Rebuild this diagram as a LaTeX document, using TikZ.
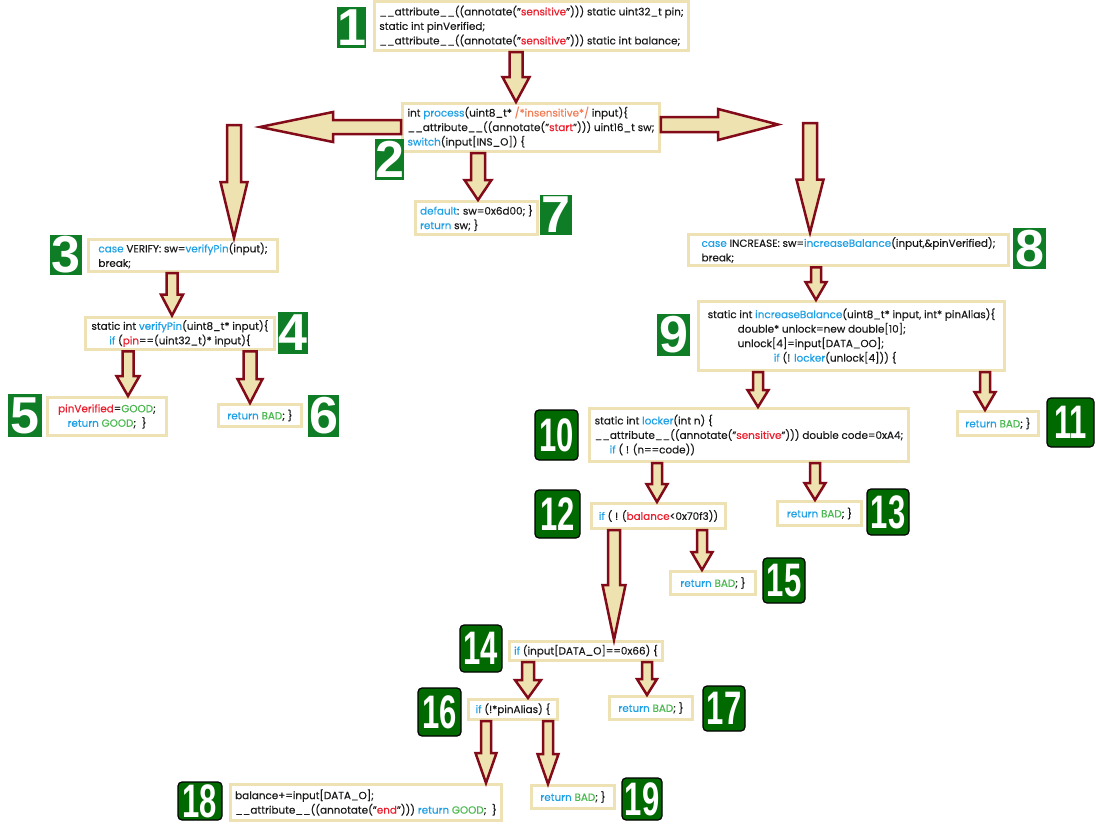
\documentclass[tikz,border=0pt]{standalone}
\usepackage{fontspec}
\usepackage{graphicx}
\setmainfont{Poppins}[FakeBold=0.3]
\newfontfamily\numfont{Liberation Sans}
\usetikzlibrary{calc}

% palette
\definecolor{kwblue}{RGB}{30,160,230}
\definecolor{hotred}{RGB}{235,30,45}
\definecolor{cmtorange}{RGB}{242,125,85}
\definecolor{okgreen}{RGB}{75,185,80}
\definecolor{ink}{RGB}{25,25,25}
\definecolor{boxedge}{RGB}{238,226,180}
\definecolor{arrowfill}{RGB}{238,226,176}
\definecolor{arrowedge}{RGB}{130,10,25}
\definecolor{badgegreen}{RGB}{14,125,38}
\definecolor{badgedark}{RGB}{0,105,0}

% syntax colouring
\newcommand{\ckw}[1]{\textcolor{kwblue}{#1}}
\newcommand{\chot}[1]{\textcolor{hotred}{#1}}
\newcommand{\ccmt}[1]{\textcolor{cmtorange}{#1}}
\newcommand{\cok}[1]{\textcolor{okgreen}{#1}}
\newcommand{\codefont}{\fontsize{10.4}{14.5}\selectfont}
\newcommand{\retbad}{\ckw{return} \cok{BAD}; \}}

\tikzset{
  codebox/.style={draw=boxedge, line width=3pt, fill=white, inner xsep=5pt,
    inner ysep=3pt, align=left, font=\codefont, text=ink},
  sqbadge/.style={fill=badgegreen, text=white, inner sep=0pt,
    font=\numfont\bfseries\fontsize{52}{52}\selectfont},
  rdbadge/.style={fill=badgedark, draw=black, line width=1.2pt, rounded corners=4pt,
    text=white, inner sep=0pt, font=\numfont\bfseries\fontsize{47}{47}\selectfont},
  blockarrow/.style={fill=arrowfill, draw=arrowedge, line width=2.5pt, line join=miter}
}

% code box: [style] name, x1, y1, x2, y2, text
\newcommand{\codenode}[7][]{%
  \pgfmathsetmacro{\cnW}{#5-#3-3}\pgfmathsetmacro{\cnH}{#6-#4-3}%
  \node[codebox,#1,minimum width=\cnW pt,minimum height=\cnH pt] (#2)
    at ({(#3+#5)/2},{(#4+#6)/2}) {#7};}
% step badge: style, name, x1, y1, x2, y2, text
\newcommand{\badge}[7]{%
  \pgfmathsetmacro{\cnW}{#5-#3}\pgfmathsetmacro{\cnH}{#6-#4}%
  \node[#1,minimum width=\cnW pt,minimum height=\cnH pt] (#2)
    at ({(#3+#5)/2},{(#4+#6)/2}) {#7};}
\newcommand{\twodig}[1]{\scalebox{0.66}[1]{#1}}
% downward block arrow: x, from, to, head length, shaft width, head width
\newcommand{\downblock}[6]{%
  \draw[blockarrow] let \p1=#2, \p2=#3 in
    (#1pt-#5pt/2,\y1) -- (#1pt-#5pt/2,\y2+#4pt) -- (#1pt-#6pt/2,\y2+#4pt)
    -- (#1pt,\y2) -- (#1pt+#6pt/2,\y2+#4pt) -- (#1pt+#5pt/2,\y2+#4pt)
    -- (#1pt+#5pt/2,\y1) -- cycle;}

\begin{document}
\begin{tikzpicture}[x=1pt,y=-1pt]
\fill[white] (0,0) rectangle (1096,825);
\useasboundingbox (0,0) rectangle (1096,825);

% code blocks
\codenode{b1}{375}{0}{688}{52}{%
\_\_attribute\_\_((annotate("\chot{sensitive}"))) static uint32\_t pin;\\
static int pinVerified;\\
\_\_attribute\_\_((annotate("\chot{sensitive}"))) static int balance;}
\codenode{b2}{406}{102}{656}{153}{%
int \ckw{process}(uint8\_t* \ccmt{/*insensitive*/} input)\{\\
\_\_attribute\_\_((annotate("\chot{start}"))) uint16\_t sw;\\
\ckw{switch}(input[INS\_O]) \{}
\codenode{b3}{87}{238}{279}{273}{%
\ckw{case} VERIFY: sw=\ckw{verifyPin}(input);\\
break;}
\codenode[align=center]{b4}{84}{316}{276}{351}{%
static int \ckw{verifyPin}(uint8\_t* input)\{\\
\ckw{if} (\chot{pin}==(uint32\_t)* input)\{}
\codenode[align=center]{b5}{46}{396}{168}{437}{%
\chot{pinVerified}=\cok{GOOD};\\
\ckw{return} \cok{GOOD};\ \ \}}
\codenode{b6}{217}{403}{303}{428}{\retbad}
\codenode{b7}{416}{200}{537}{236}{%
\ckw{default}: sw=0x6d00; \}\\
\ckw{return} sw; \}}
\codenode{b8}{687}{233}{1010}{267}{%
\ckw{case} INCREASE: sw=\ckw{increaseBalance}(input,\&pinVerified);\\
break;}
\codenode{b9}{697}{300}{1006}{372}{%
static int \ckw{increaseBalance}(uint8\_t* input, int* pinAlias)\{\\
\hspace*{30pt}double* unlock=new double[10];\\
\hspace*{30pt}unlock[4]=input[DATA\_OO];\\
\hspace*{66pt}\ckw{if} (! \ckw{locker}(unlock[4])) \{}
\codenode{b10}{590}{407}{908}{463}{%
static int \ckw{locker}(int n) \{\\
\_\_attribute\_\_((annotate("\chot{sensitive}"))) double code=0xA4;\\
\hspace*{15pt}\ckw{if} ( ! (n==code))}
\codenode{b11}{956}{410}{1040}{437}{\retbad}
\codenode{b12}{590}{502}{727}{530}{\ckw{if} ( ! (\chot{balance}<0x70f3))}
\codenode{b13}{776}{500}{863}{527}{\retbad}
\codenode{b14}{508}{640}{664}{662}{\ckw{if} (input[DATA\_O]==0x66) \{}
\codenode{b15}{669}{570}{757}{596}{\retbad}
\codenode{b16}{467}{698}{559}{721}{\ckw{if} (!*pinAlias) \{}
\codenode{b17}{608}{695}{694}{721}{\retbad}
\codenode{b18}{230}{783}{502}{822}{%
balance+=input[DATA\_O];\\
\_\_attribute\_\_((annotate("\chot{end}"))) \ckw{return} \cok{GOOD};\ \ \}}
\codenode{b19}{530}{784}{616}{810}{\retbad}

% step numbers
\badge{sqbadge}{n1}{337}{7}{366}{48}{1}
\badge{sqbadge}{n2}{376}{139}{403}{180}{2}
\badge{sqbadge}{n3}{50}{235}{82}{275}{3}
\badge{sqbadge}{n4}{278}{312}{308}{354}{4}
\badge{sqbadge}{n5}{8}{394}{42}{437}{5}
\badge{sqbadge}{n6}{308}{395}{339}{437}{6}
\badge{sqbadge}{n7}{540}{195}{572}{235}{7}
\badge{sqbadge}{n8}{1013}{228}{1046}{269}{8}
\badge{sqbadge}{n9}{657}{314}{690}{356}{9}
\badge{rdbadge}{n10}{535}{410}{578}{460}{\twodig{10}}
\badge{rdbadge}{n11}{1047}{398}{1094}{447}{\twodig{11}}
\badge{rdbadge}{n12}{535}{490}{580}{538}{\twodig{12}}
\badge{rdbadge}{n13}{867}{489}{909}{535}{\twodig{13}}
\badge{rdbadge}{n14}{460}{625}{502}{672}{\twodig{14}}
\badge{rdbadge}{n15}{763}{558}{805}{603}{\twodig{15}}
\badge{rdbadge}{n16}{418}{688}{461}{736}{\twodig{16}}
\badge{rdbadge}{n17}{703}{686}{745}{731}{\twodig{17}}
\badge{rdbadge}{n18}{178}{782}{222}{820}{\twodig{18}}
\badge{rdbadge}{n19}{622}{778}{662}{820}{\twodig{19}}

% free ends of the two branch arrows
\coordinate (ltip) at (260,127);
\coordinate (rtip) at (778,124.5);
\coordinate (ldtop) at (234,125);
\coordinate (rdtop) at (810,123);

% horizontal branch arrows out of process()
\draw[blockarrow] let \p1=(b2.west), \p2=(ltip) in
  (\x1,-120pt) -- (\x2+73pt,-120pt) -- (\x2+73pt,-112pt) -- (\x2,\y2)
  -- (\x2+73pt,-142pt) -- (\x2+73pt,-134pt) -- (\x1,-134pt) -- cycle;
\draw[blockarrow] let \p1=(b2.east), \p2=(rtip) in
  (\x1,-117pt) -- (\x2-60pt,-117pt) -- (\x2-60pt,-109pt) -- (\x2,\y2)
  -- (\x2-60pt,-140pt) -- (\x2-60pt,-132pt) -- (\x1,-132pt) -- cycle;

% downward flow arrows
\downblock{516}{(b1.south)}{(b2.north)}{25}{13}{27}
\downblock{234}{(ldtop)}{(b3.north)}{56}{14}{27}
\downblock{810}{(rdtop)}{(b8.north)}{53}{14}{27}
\downblock{478}{(b2.south)}{(b7.north)}{20}{14}{27}
\downblock{172}{(b3.south)}{(b4.north)}{21}{11}{22}
\downblock{128}{(b4.south)}{(b5.north)}{20}{11}{23}
\downblock{250}{(b4.south)}{(b6.north)}{24}{13}{25}
\downblock{816}{(b8.south)}{(b9.north)}{18}{10}{21}
\downblock{758}{(b9.south)}{(b10.north)}{17}{10}{21}
\downblock{985}{(b9.south)}{(b11.north)}{18}{10}{21}
\downblock{657}{(b10.south)}{(b12.north)}{18}{10}{21}
\downblock{815}{(b10.south)}{(b13.north)}{17}{10}{21}
\downblock{614}{(b12.south)}{(b14.north)}{55}{12}{23}
\downblock{702}{(b12.south)}{(b15.north)}{18}{10}{21}
\downblock{528}{(b14.south)}{(b16.north)}{18}{12}{26}
\downblock{647}{(b14.south)}{(b17.north)}{16}{10}{20}
\downblock{486}{(b16.south)}{(b18.north)}{30}{10}{21}
\downblock{548}{(b16.south)}{(b19.north)}{30}{10}{21}
\end{tikzpicture}
\end{document}
